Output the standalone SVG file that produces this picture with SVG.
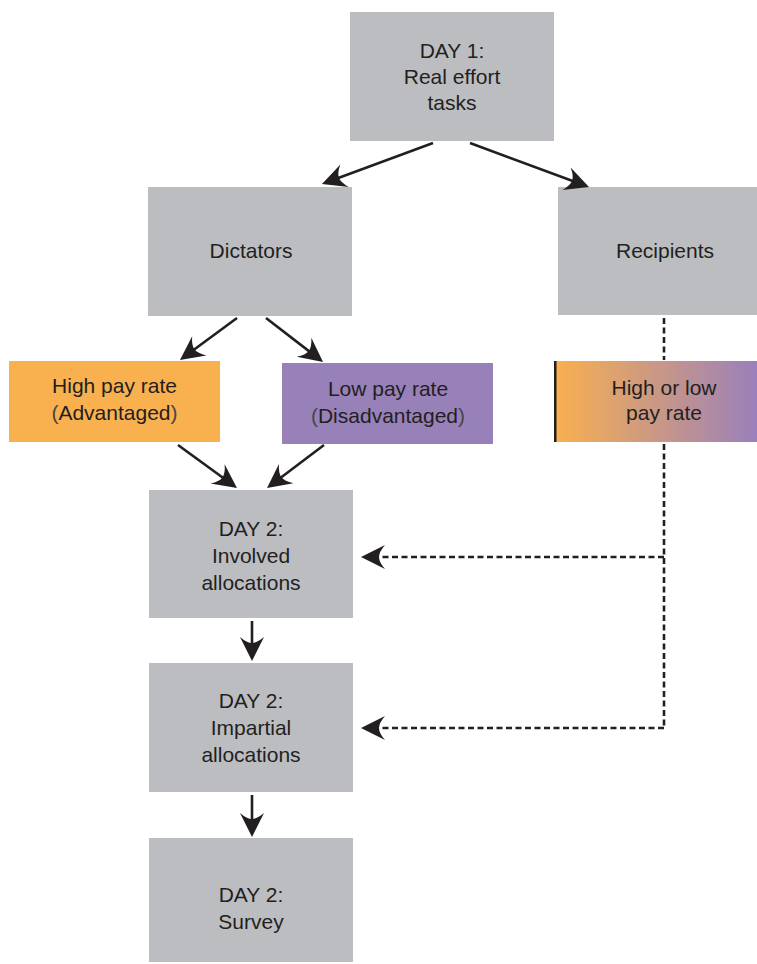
<svg xmlns="http://www.w3.org/2000/svg" width="757" height="964" viewBox="0 0 757 964">
<style>
.box{fill:#bcbdc0}
.t{font-family:"Liberation Sans",Arial,sans-serif;font-size:21px;fill:#231f20;text-anchor:middle}
.ln{stroke:#231f20;stroke-width:2.6;fill:none}
.dash{stroke:#231f20;stroke-width:2.6;fill:none;stroke-dasharray:6,3.5}
.p{fill:#4a4547}
</style>
<defs>
<marker id="ah" markerUnits="userSpaceOnUse" markerWidth="30" markerHeight="30" refX="16" refY="15" orient="auto" overflow="visible">
<path d="M24,15 L0,3 Q6,10 6,15 Q6,20 0,27 Z" fill="#231f20"/>
</marker>
<linearGradient id="mix" x1="0" y1="0" x2="1" y2="0">
<stop offset="0" stop-color="#f9b04f"/>
<stop offset="1" stop-color="#9a80bb"/>
</linearGradient>
</defs>
<rect width="757" height="964" fill="#ffffff"/>
<g id="day1">
<rect class="box" x="350" y="12" width="204" height="129"/>
<text class="t" x="452" y="58">DAY 1:</text>
<text class="t" x="452" y="84">Real effort</text>
<text class="t" x="452" y="110">tasks</text>
</g>
<g id="dictators">
<rect class="box" x="148" y="187" width="204" height="129"/>
<text class="t" x="251" y="258">Dictators</text>
</g>
<g id="recipients">
<rect class="box" x="558" y="187" width="199" height="128"/>
<text class="t" x="665" y="258">Recipients</text>
</g>
<g id="high">
<rect x="9" y="361" width="211" height="81" fill="#f9b04f"/>
<text class="t" x="114.5" y="393">High pay rate</text>
<text class="t" x="114.5" y="420"><tspan class="p">(</tspan>Advantaged<tspan class="p">)</tspan></text>
</g>
<g id="low">
<rect x="282" y="363" width="211" height="81" fill="#9880b9"/>
<text class="t" x="388" y="396">Low pay rate</text>
<text class="t" x="388" y="423"><tspan class="p">(</tspan>Disadvantaged<tspan class="p">)</tspan></text>
</g>
<g id="mixed">
<rect x="555" y="361" width="202" height="81" fill="url(#mix)"/>
<rect x="554" y="361" width="2.5" height="81" fill="#231f20"/>
<text class="t" x="664" y="395">High or low</text>
<text class="t" x="664" y="420">pay rate</text>
</g>
<g id="involved">
<rect class="box" x="149" y="490" width="204" height="128"/>
<text class="t" x="251" y="536">DAY 2:</text>
<text class="t" x="251" y="563">Involved</text>
<text class="t" x="251" y="590">allocations</text>
</g>
<g id="impartial">
<rect class="box" x="149" y="663" width="204" height="129"/>
<text class="t" x="251" y="708">DAY 2:</text>
<text class="t" x="251" y="735">Impartial</text>
<text class="t" x="251" y="762">allocations</text>
</g>
<g id="survey">
<rect class="box" x="149" y="838" width="204" height="124"/>
<text class="t" x="251" y="902">DAY 2:</text>
<text class="t" x="251" y="929">Survey</text>
</g>
<g id="connectors">
<line class="ln" x1="433" y1="143" x2="329.5" y2="181.2" marker-end="url(#ah)"/>
<line class="ln" x1="470" y1="143" x2="581.5" y2="184.2" marker-end="url(#ah)"/>
<line class="ln" x1="237" y1="318" x2="186.4" y2="355.3" marker-end="url(#ah)"/>
<line class="ln" x1="266" y1="318" x2="316.7" y2="357.1" marker-end="url(#ah)"/>
<line class="ln" x1="178" y1="445" x2="230.5" y2="483.3" marker-end="url(#ah)"/>
<line class="ln" x1="324" y1="445" x2="273.4" y2="483.2" marker-end="url(#ah)"/>
<line class="ln" x1="252" y1="621" x2="252" y2="653" marker-end="url(#ah)"/>
<line class="ln" x1="252" y1="795" x2="252" y2="829" marker-end="url(#ah)"/>
<path class="dash" d="M664,318 V360"/>
<path class="dash" d="M664,444 V728"/>
<line class="dash" x1="664" y1="557" x2="369" y2="557" marker-end="url(#ah)"/>
<line class="dash" x1="664" y1="728" x2="369" y2="728" marker-end="url(#ah)"/>
</g>
</svg>
